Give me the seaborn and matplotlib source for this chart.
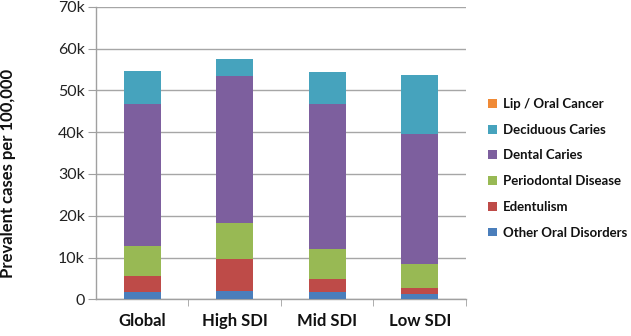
import matplotlib
matplotlib.use("Agg")
import matplotlib.pyplot as plt
import seaborn as sns
import pandas as pd
import numpy as np

categories = ["Global", "High SDI", "Mid SDI", "Low SDI"]
series_names = ["Other Oral Disorders", "Edentulism", "Periodontal Disease",
                "Dental Caries", "Deciduous Caries", "Lip / Oral Cancer"]
other_oral = [1750, 1900, 1750, 1350]
edentulism = [3750, 7650, 3050, 1450]
periodontal = [7250, 8750, 7150, 5550]
dental_caries = [34100, 35100, 34700, 31300]
deciduous_caries = [7800, 4000, 7750, 14000]
lip_oral_cancer = [5, 12, 4, 5]
yticks = [0, 10000, 20000, 30000, 40000, 50000, 60000, 70000]
ytick_labels = ["0", "10k", "20k", "30k", "40k", "50k", "60k", "70k"]

colors = ["#4A7EBB", "#BE4B48", "#98B954", "#7D5F9E", "#46A3BD", "#F08A36"]

values = [other_oral, edentulism, periodontal, dental_caries, deciduous_caries, lip_oral_cancer]
df = pd.DataFrame({name: v for name, v in zip(series_names, values)})
df["Region"] = categories
cum = df[series_names].cumsum(axis=1)
cum["Region"] = categories

sns.set_style("white")
plt.rcParams["font.family"] = ["Lato", "DejaVu Sans"]

fig = plt.figure(figsize=(6.31, 3.36), dpi=100)
ax = fig.add_axes([0.152, 0.109, 0.5865, 0.871])

# stacked via cumulative overlays, top layer first
for name, col in reversed(list(zip(series_names, colors))):
    sns.barplot(data=cum, x="Region", y=name, color=col, width=0.4,
                ax=ax, label=name, saturation=1, edgecolor="none", zorder=3)

handles, labels = ax.get_legend_handles_labels()
if ax.get_legend() is not None:
    ax.get_legend().remove()

ax.set_ylim(0, 70000)
ax.set_xlim(-0.5, 3.5)
ax.set_yticks(yticks)
ax.set_yticklabels(ytick_labels, fontsize=11.5, color="#222222")
ax.set_xticks(range(len(categories)))
ax.set_xticklabels(categories, fontsize=12, fontweight="bold", color="#111111")
ax.set_xticks([0.5, 1.5, 2.5, 3.5], minor=True)
ax.tick_params(axis="x", which="major", length=0, pad=10)
ax.tick_params(axis="x", which="minor", length=5, color="#A0A0A0", direction="out", bottom=True)
ax.tick_params(axis="y", which="major", length=6, color="#A0A0A0", direction="out", left=True, pad=2)
ax.yaxis.grid(True, color="#A6A6A6", linewidth=1, zorder=0)
ax.set_axisbelow(True)
for s in ["top", "right"]:
    ax.spines[s].set_visible(False)
for s in ["left", "bottom"]:
    ax.spines[s].set_color("#A0A0A0")
    ax.spines[s].set_linewidth(1)
ax.set_xlabel("")
ax.set_ylabel("Prevalent cases per 100,000", fontsize=12, fontweight="bold",
              color="#111111", labelpad=10)
ax.yaxis.set_label_coords(-0.215, 0.43)

lg = fig.legend(handles, labels, loc="upper left", bbox_to_anchor=(0.765, 0.724),
                frameon=False, fontsize=9.5, handlelength=0.65, handleheight=0.65,
                handletextpad=0.5, labelspacing=1.04, borderaxespad=0)
for t in lg.get_texts():
    t.set_fontweight("bold")
    t.set_color("#111111")

fig.savefig("out.png", dpi=100)
